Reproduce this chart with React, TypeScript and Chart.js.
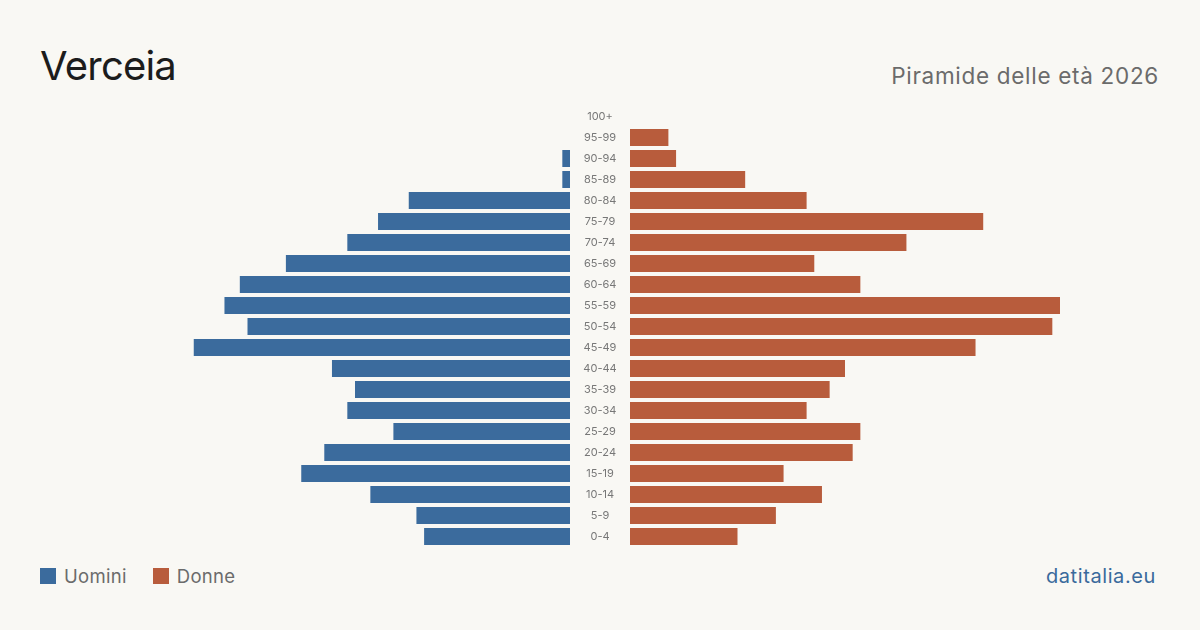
import React, { useEffect, useRef } from "react";
import { Chart, registerables } from "chart.js";

Chart.register(...registerables);

// Age classes, top to bottom
const ageClasses = [
  "100+", "95-99", "90-94", "85-89", "80-84", "75-79", "70-74", "65-69", "60-64",
  "55-59", "50-54", "45-49", "40-44", "35-39", "30-34", "25-29", "20-24", "15-19",
  "10-14", "5-9", "0-4",
];
const men = [0, 0, 1, 1, 21, 25, 29, 37, 43, 45, 42, 49, 31, 28, 29, 23, 32, 35, 26, 20, 19];
const women = [0, 5, 6, 15, 23, 46, 36, 24, 30, 56, 55, 45, 28, 26, 23, 30, 29, 20, 25, 19, 14];

const MEN_COLOR = "#3b6b9d";
const WOMEN_COLOR = "#b85c3c";
const BG = "#f9f8f4";
const FONT = "Inter, 'Noto Sans', sans-serif";

const axisMax = Math.max(...men, ...women);

function baseOptions(reverse: boolean, padLeft: number): any {
  return {
    indexAxis: "y",
    animation: false,
    responsive: false,
    maintainAspectRatio: false,
    layout: { padding: { left: padLeft, right: 0, top: 0, bottom: 0 } },
    plugins: { legend: { display: false }, tooltip: { enabled: false } },
    scales: {
      x: { display: false, min: 0, max: axisMax, reverse },
      y: { display: false, grid: { display: false } },
    },
  };
}

// Draws age-class labels in the gutter left of the chart area
const centerLabels = {
  id: "centerLabels",
  afterDraw(chart: any) {
    const { ctx, chartArea, scales } = chart;
    ctx.save();
    ctx.font = `11px ${FONT}`;
    ctx.fillStyle = "#777777";
    ctx.textAlign = "center";
    ctx.textBaseline = "middle";
    ageClasses.forEach((lab, i) => {
      ctx.fillText(lab, chartArea.left - 30, scales.y.getPixelForValue(i) + 0.5);
    });
    ctx.restore();
  },
};

function PyramidHalf(props: {
  values: number[];
  color: string;
  reverse: boolean;
  padLeft: number;
  width: number;
  height: number;
  withLabels: boolean;
  style: React.CSSProperties;
}) {
  const ref = useRef<HTMLCanvasElement | null>(null);
  useEffect(() => {
    if (!ref.current) return;
    const chart = new Chart(ref.current, {
      type: "bar",
      data: {
        labels: ageClasses,
        datasets: [
          {
            data: props.values,
            backgroundColor: props.color,
            borderWidth: 0,
            barPercentage: 0.81,
            categoryPercentage: 1,
          },
        ],
      },
      options: baseOptions(props.reverse, props.padLeft),
      plugins: props.withLabels ? [centerLabels] : [],
    });
    return () => chart.destroy();
  }, []);
  return (
    <canvas
      ref={ref}
      width={props.width}
      height={props.height}
      style={{ position: "absolute", width: props.width, height: props.height, ...props.style }}
    />
  );
}

export default function App() {
  useEffect(() => {
    document.body.style.margin = "0";
    document.body.style.background = BG;
  }, []);
  return (
    <div
      style={{
        position: "relative",
        width: 1200,
        height: 630,
        background: BG,
        fontFamily: FONT,
        overflow: "hidden",
      }}
    >
      <div
        style={{
          position: "absolute",
          left: 40,
          top: 42,
          fontSize: 40,
          letterSpacing: -0.8,
          lineHeight: "48px",
          color: "#1c1c1c",
        }}
      >
        Verceia
      </div>
      <div
        style={{
          position: "absolute",
          right: 41,
          top: 62,
          fontSize: 22.5,
          letterSpacing: 0.7,
          lineHeight: "28px",
          color: "#6b6b6b",
        }}
      >
        Piramide delle età 2026
      </div>

      <PyramidHalf
        values={men}
        color={MEN_COLOR}
        reverse={true}
        padLeft={0}
        width={430}
        height={441}
        withLabels={false}
        style={{ left: 140, top: 106 }}
      />
      <PyramidHalf
        values={women}
        color={WOMEN_COLOR}
        reverse={false}
        padLeft={60}
        width={490}
        height={441}
        withLabels={true}
        style={{ left: 570, top: 106 }}
      />

      <div
        style={{
          position: "absolute",
          left: 40,
          top: 565,
          display: "flex",
          alignItems: "center",
          fontSize: 18.5,
          letterSpacing: 0.3,
          lineHeight: "22px",
          color: "#6b6b6b",
        }}
      >
        <span style={{ width: 16, height: 16, background: MEN_COLOR, display: "inline-block", marginRight: 8 }} />
        <span style={{ marginRight: 26 }}>Uomini</span>
        <span style={{ width: 16, height: 16, background: WOMEN_COLOR, display: "inline-block", marginRight: 8 }} />
        <span>Donne</span>
      </div>
      <div
        style={{
          position: "absolute",
          right: 44,
          top: 564,
          fontSize: 20,
          letterSpacing: 0.6,
          lineHeight: "24px",
          color: "#3a6a9c",
        }}
      >
        datitalia.eu
      </div>
    </div>
  );
}
